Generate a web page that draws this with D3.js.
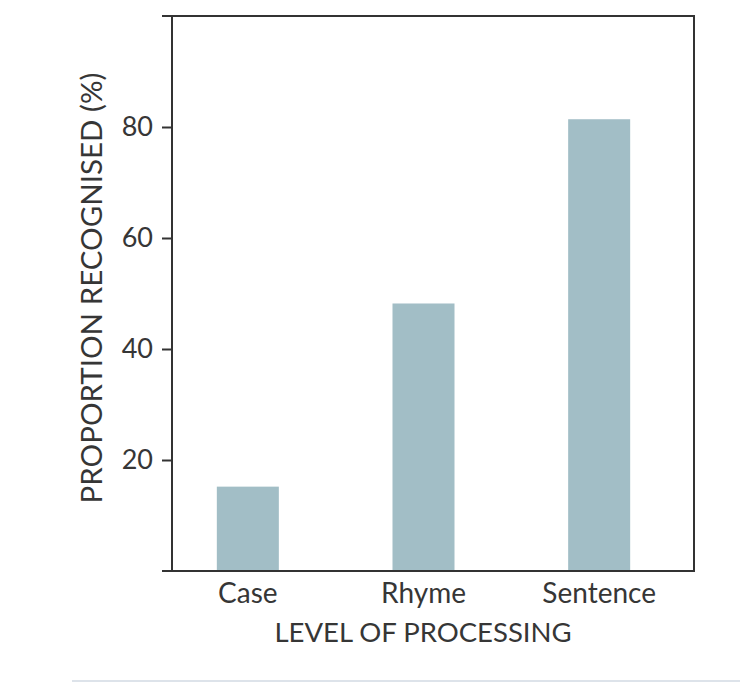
<!DOCTYPE html>
<html>
<head>
<meta charset="utf-8">
<script src="https://cdn.jsdelivr.net/npm/d3@7"></script>
<style>
  body { margin: 0; background: #fff; }
  text { font-family: Lato, "Open Sans", sans-serif; fill: #363636; }
</style>
</head>
<body>
<div id="chart"></div>
<script>
// data
var categories = ["Case", "Rhyme", "Sentence"];
var values = [15.2, 48.2, 81.4];
var yTicks = [20, 40, 60, 80];

var width = 740, height = 682;

var svg = d3.select("#chart")
	.append("svg")
	.attr("width", width)
	.attr("height", height);

var x = d3.scaleBand()
	.domain(categories)
	.range([160, 687])
	.paddingInner(0.647)
	.paddingOuter(0.3235);

var y = d3.scaleLinear()
	.domain([0, 100])
	.range([571, 16]);

// bars
svg.selectAll(".bar")
	.data(categories)
	.enter().append("rect")
	.attr("class", "bar")
	.attr("x", function (d) { return x(d); })
	.attr("width", x.bandwidth())
	.attr("y", function (d, i) { return y(values[i]); })
	.attr("height", function (d, i) { return y(0) - y(values[i]); })
	.style("fill", "#a2bec6");

// frame: top and right border
svg.append("path")
	.attr("d", "M162," + y(100) + "H694V" + y(0))
	.style("fill", "none")
	.style("stroke", "#333")
	.style("stroke-width", 2);

// y axis
var yAxis = svg.append("g")
	.attr("transform", "translate(172,0)")
	.call(d3.axisLeft(y).tickValues(yTicks).tickSize(10).tickPadding(9));

yAxis.select(".domain").remove();
yAxis.selectAll("line").style("stroke", "#333").style("stroke-width", 2);
yAxis.selectAll("text")
	.style("font-size", "27px")
	.style("fill", "#363636")
	.style("font-family", "Lato, sans-serif");

svg.append("line")
	.attr("x1", 172).attr("x2", 172)
	.attr("y1", y(100)).attr("y2", y(0))
	.style("stroke", "#333")
	.style("stroke-width", 2);

// x axis
var xAxis = svg.append("g")
	.attr("transform", "translate(0," + y(0) + ")")
	.call(d3.axisBottom(x).tickSize(0).tickPadding(12));

xAxis.select(".domain").remove();
xAxis.selectAll("text")
	.style("font-size", "28px")
	.style("fill", "#363636")
	.style("font-family", "Lato, sans-serif");

svg.append("line")
	.attr("x1", 162).attr("x2", 695)
	.attr("y1", y(0)).attr("y2", y(0))
	.style("stroke", "#333")
	.style("stroke-width", 2);

// axis titles
svg.append("text")
	.attr("x", 423)
	.attr("y", 642)
	.attr("text-anchor", "middle")
	.style("font-size", "27.5px")
	.text("LEVEL OF PROCESSING");

svg.append("text")
	.attr("transform", "translate(102,288) rotate(-90)")
	.attr("text-anchor", "middle")
	.style("font-size", "29.5px")
	.text("PROPORTION RECOGNISED (%)");

// thin rule at the bottom
svg.append("line")
	.attr("x1", 72).attr("x2", 740)
	.attr("y1", 681).attr("y2", 681)
	.style("stroke", "#dde3ea")
	.style("stroke-width", 2);
</script>
</body>
</html>
